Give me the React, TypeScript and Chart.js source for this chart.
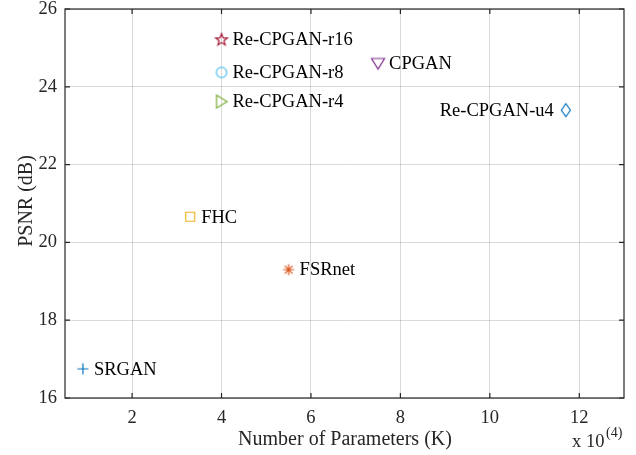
import React, { useEffect, useRef } from "react";
import { Chart, registerables } from "chart.js";

Chart.register(...registerables);

const models = ["SRGAN", "FSRnet", "FHC", "CPGAN", "Re-CPGAN-r4", "Re-CPGAN-r8", "Re-CPGAN-r16", "Re-CPGAN-u4"];
const params = [0.9, 5.5, 3.3, 7.5, 4.0, 4.0, 4.0, 11.7];
const psnr = [16.75, 19.3, 20.66, 24.6, 23.62, 24.37, 25.22, 23.4];
const xTicks = [2, 4, 6, 8, 10, 12];
const yTicks = [16, 18, 20, 22, 24, 26];
const labelsOnLeft = ["Re-CPGAN-u4"];

const colors = ["#0072BD", "#D95319", "#EDB120", "#7E2F8E", "#77AC30", "#4DBEEE", "#A2142F", "#0072BD"];
const shapes = ["plus", "asterisk", "square", "triDown", "triRight", "circle", "pentagram", "diamond"];

const FONT = "'Liberation Serif', 'Times New Roman', serif";

function makeMarker(shape: string, color: string): HTMLCanvasElement {
  const S = 18;
  const c = document.createElement("canvas");
  c.width = S;
  c.height = S;
  const g = c.getContext("2d")!;
  const m = S / 2;
  g.strokeStyle = color;
  g.lineWidth = 1.2;
  g.beginPath();
  if (shape === "plus") {
    g.moveTo(m - 5.5, m); g.lineTo(m + 5.5, m);
    g.moveTo(m, m - 5.5); g.lineTo(m, m + 5.5);
  } else if (shape === "asterisk") {
    const r = 5.5;
    for (let i = 0; i < 4; i++) {
      const a = (i * Math.PI) / 4;
      g.moveTo(m - r * Math.cos(a), m - r * Math.sin(a));
      g.lineTo(m + r * Math.cos(a), m + r * Math.sin(a));
    }
  } else if (shape === "square") {
    g.rect(m - 4.5, m - 4.5, 9, 9);
  } else if (shape === "circle") {
    g.arc(m, m, 5.2, 0, Math.PI * 2);
  } else if (shape === "triDown") {
    g.moveTo(m - 6.5, m - 5); g.lineTo(m + 6.5, m - 5); g.lineTo(m, m + 5.5); g.closePath();
  } else if (shape === "triRight") {
    g.moveTo(m - 5, m - 6.5); g.lineTo(m + 5.5, m); g.lineTo(m - 5, m + 6.5); g.closePath();
  } else if (shape === "diamond") {
    g.moveTo(m, m - 6.5); g.lineTo(m + 4.5, m); g.lineTo(m, m + 6.5); g.lineTo(m - 4.5, m); g.closePath();
  } else if (shape === "pentagram") {
    const R = 6.2, r = 2.6;
    for (let i = 0; i < 10; i++) {
      const rad = i % 2 === 0 ? R : r;
      const a = -Math.PI / 2 + (i * Math.PI) / 5;
      const px = m + rad * Math.cos(a), py = m + 0.5 + rad * Math.sin(a);
      if (i === 0) g.moveTo(px, py); else g.lineTo(px, py);
    }
    g.closePath();
  }
  g.stroke();
  return c;
}

const decorPlugin = {
  id: "decor",
  afterDatasetsDraw(chart: any) {
    const ctx = chart.ctx;
    const { left, right, top, bottom } = chart.chartArea;
    const xs = chart.scales.x, ys = chart.scales.y;
    ctx.save();
    // box
    ctx.strokeStyle = "#262626";
    ctx.lineWidth = 1.2;
    ctx.strokeRect(left, top, right - left, bottom - top);
    // inward ticks
    const tl = 5;
    ctx.beginPath();
    xTicks.forEach((v) => {
      const px = xs.getPixelForValue(v);
      ctx.moveTo(px, bottom); ctx.lineTo(px, bottom - tl);
      ctx.moveTo(px, top); ctx.lineTo(px, top + tl);
    });
    yTicks.forEach((v) => {
      const py = ys.getPixelForValue(v);
      ctx.moveTo(left, py); ctx.lineTo(left + tl, py);
      ctx.moveTo(right, py); ctx.lineTo(right - tl, py);
    });
    ctx.stroke();
    // point labels
    ctx.fillStyle = "#000";
    ctx.font = `18.5px ${FONT}`;
    ctx.textBaseline = "middle";
    chart.data.datasets.forEach((ds: any, i: number) => {
      const el = chart.getDatasetMeta(i).data[0];
      if (!el) return;
      const onLeft = labelsOnLeft.includes(ds.label);
      ctx.textAlign = onLeft ? "right" : "left";
      ctx.fillText(ds.label, el.x + (onLeft ? -12 : 11), el.y + 1);
    });
    // axis titles
    ctx.fillStyle = "#262626";
    ctx.font = `20px ${FONT}`;
    ctx.textAlign = "center";
    ctx.textBaseline = "middle";
    ctx.fillText("Number of Parameters (K)", 345, 440);
    ctx.save();
    ctx.translate(27, 201);
    ctx.rotate(-Math.PI / 2);
    ctx.fillText("PSNR (dB)", 0, 0);
    ctx.restore();
    // exponent
    ctx.font = `18.5px ${FONT}`;
    ctx.textAlign = "left";
    ctx.textBaseline = "alphabetic";
    ctx.fillText("x 10", 572, 447);
    ctx.font = `14px ${FONT}`;
    ctx.fillText("(4)", 606, 437);
    ctx.restore();
  },
};

export default function App() {
  const ref = useRef<HTMLCanvasElement>(null);
  useEffect(() => {
    const datasets = models.map((name, i) => ({
      label: name,
      data: [{ x: params[i], y: psnr[i] }],
      pointStyle: makeMarker(shapes[i], colors[i]),
      borderColor: colors[i],
      backgroundColor: colors[i],
    }));
    const chart = new Chart(ref.current!, {
      type: "scatter",
      data: { datasets },
      options: {
        animation: false,
        responsive: false,
        layout: { padding: { left: 0, top: 9, right: 12, bottom: 0 } },
        plugins: { legend: { display: false }, tooltip: { enabled: false } },
        scales: {
          x: {
            type: "linear",
            min: 0.5,
            max: 13,
            afterBuildTicks: (s: any) => { s.ticks = xTicks.map((v) => ({ value: v })); },
            afterFit: (s: any) => { s.height = 57; s.paddingLeft = 0; s.paddingRight = 0; },
            grid: { color: "rgba(0,0,0,0.15)", drawTicks: false, lineWidth: 1 },
            border: { display: false },
            ticks: { color: "#262626", font: { family: FONT, size: 18.5 }, padding: 9, maxRotation: 0 },
          },
          y: {
            type: "linear",
            min: 16,
            max: 26,
            afterBuildTicks: (s: any) => { s.ticks = yTicks.map((v) => ({ value: v })); },
            afterFit: (s: any) => { s.width = 65; s.paddingTop = 0; s.paddingBottom = 0; },
            grid: { color: "rgba(0,0,0,0.15)", drawTicks: false, lineWidth: 1 },
            border: { display: false },
            ticks: { color: "#262626", font: { family: FONT, size: 18.5 }, padding: 8 },
          },
        },
      },
      plugins: [decorPlugin],
    });
    return () => chart.destroy();
  }, []);
  return (
    <div style={{ position: "fixed", left: 0, top: 0, width: 636, height: 455, background: "#fff" }}>
      <canvas ref={ref} width={636} height={455} />
    </div>
  );
}
